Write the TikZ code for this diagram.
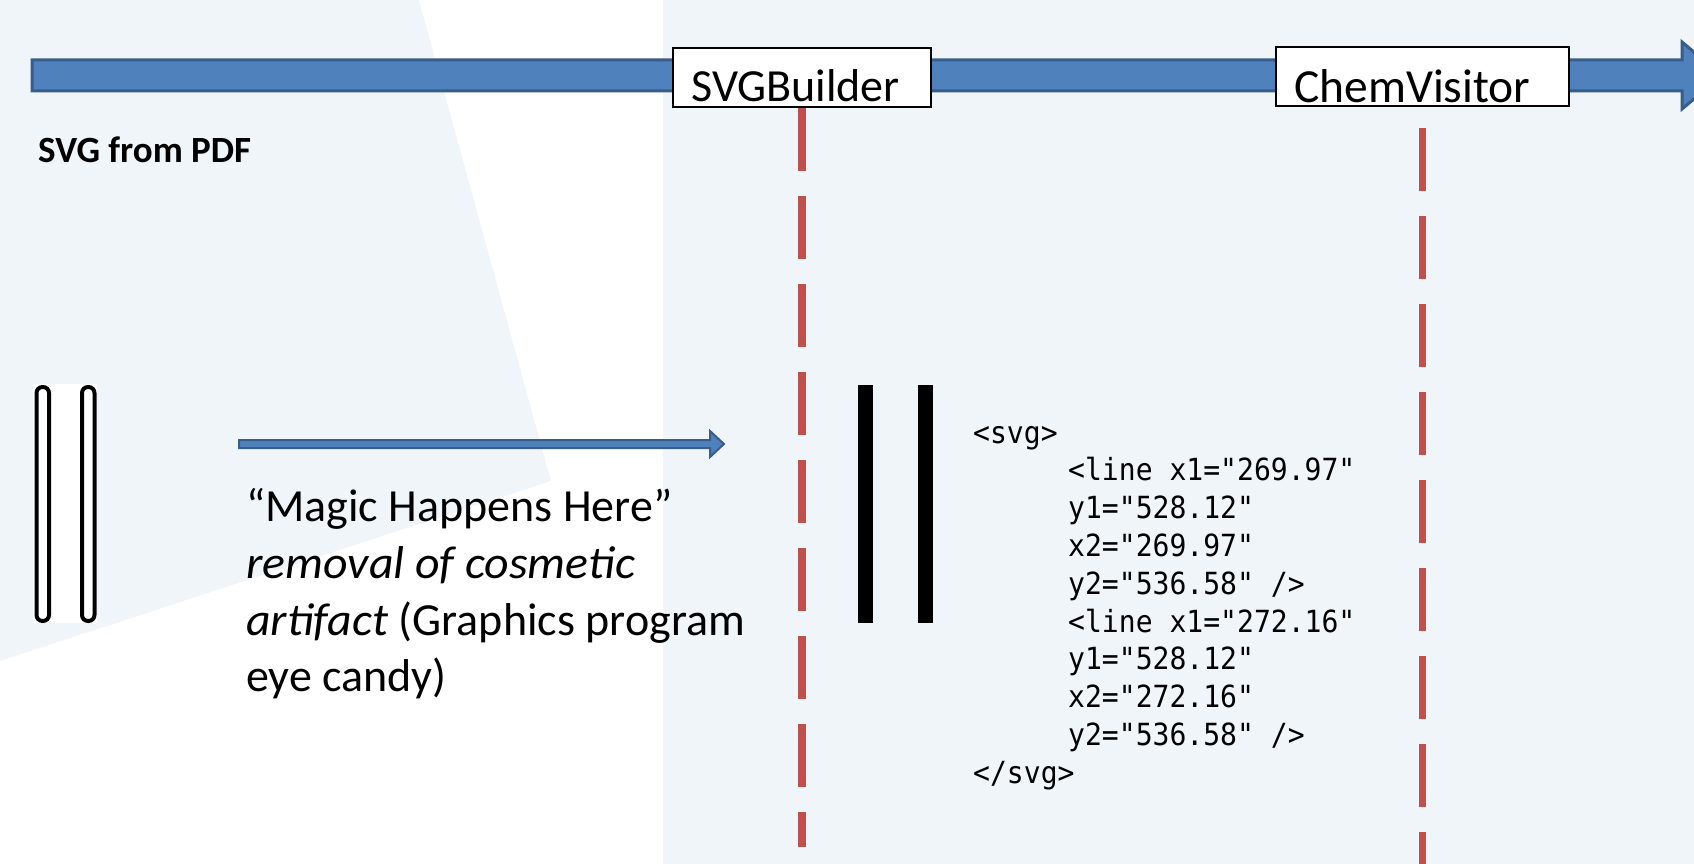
\documentclass[tikz,border=0pt]{standalone}
\usepackage{fontspec}
\setmainfont{Carlito}[ItalicFeatures={FakeStretch=1.04}]
\newfontfamily\codefont[FakeStretch=0.92]{DejaVu Sans Mono}
\definecolor{bglight}{RGB}{240,245,250}
\definecolor{arrowfill}{RGB}{79,129,189}
\definecolor{arrowline}{RGB}{56,93,138}
\definecolor{lifered}{RGB}{192,80,77}
\tikzset{
  blockarrow/.style={fill=arrowfill, draw=arrowline, line join=miter},
  classbox/.style={draw=black, fill=white, line width=1.8pt, inner sep=0pt, anchor=north west},
  classlabel/.style={font=\fontsize{46}{55}\selectfont, inner sep=0pt, anchor=base west},
  lifeline/.style={draw=lifered, line width=7.5pt, dash pattern=on 63pt off 25pt},
  bodytext/.style={font=\fontsize{46}{57}\selectfont, inner sep=0pt, anchor=base west},
  codetext/.style={font=\codefont\fontsize{30.5}{36}\selectfont, inner sep=0pt, anchor=base west},
  outlinebar/.style={draw=black, fill=white, line width=4pt, rounded corners=6pt},
  solidbar/.style={fill=black}
}
\begin{document}
\begin{tikzpicture}[x=1pt,y=-1pt]
\useasboundingbox (0,0) rectangle (1694,864);
\clip (0,0) rectangle (1694,864);
% background
\fill[bglight] (0,0) rectangle (1694,864);
\fill[white] (419,0) -- (663,0) -- (663,864) -- (0,864) -- (0,661) -- (551,481) -- cycle;

% main time arrow
\draw[blockarrow, line width=3pt] (32,60) -- (1682,60) -- (1682,42) -- (1722,75.5) -- (1682,109) -- (1682,91) -- (32,91) -- cycle;

% class boxes
\node[classbox, minimum width=258pt, minimum height=58.5pt] (svgb) at (672,47.5) {};
\node[classlabel] (svgbl) at (691,101.5) {SVGBuilder};
\node[classbox, minimum width=293pt, minimum height=58.5pt] (cv) at (1275,46.5) {};
\node[classlabel, font=\fontsize{47.5}{55}\selectfont] (cvl) at (1294,102.5) {ChemVisitor};

% lifelines
\coordinate (svgbend) at (svgb.south |- 0,847);
\coordinate (cvstart) at ([yshift=-21pt]cv.south);
\coordinate (cvend) at (cv.south |- 0,870);
\draw[lifeline] (svgb.south) -- (svgbend);
\draw[lifeline] (cvstart) -- (cvend);

% source label
\node[font=\bfseries\fontsize{37}{44}\selectfont, inner sep=0pt, anchor=base west] (src) at (38,162) {SVG from PDF};

% original (outlined) lines
\fill[white] (33,384) rectangle (97,623);
\draw[outlinebar] (36.5,387) rectangle (49,621);
\draw[outlinebar] (82,387) rectangle (94.5,621);

% magic arrow
\draw[blockarrow, line width=2pt] (239,440) -- (710,440) -- (710,431) -- (724,444) -- (710,457) -- (710,448) -- (239,448) -- cycle;

% magic text
\node[bodytext] (m1) at (246,521) {“Magic Happens Here”};
\node[bodytext] (m2) at (246,578) {\itshape removal of cosmetic};
\node[bodytext] (m3) at (246,635) {\textit{artifact} (Graphics program};
\node[bodytext] (m4) at (246,691) {eye candy)};

% resulting solid lines
\fill[solidbar] (858,385) rectangle (873,623);
\fill[solidbar] (918,385) rectangle (933,623);

% svg code
\node[codetext] (c0) at (973,443) {<svg>};
\node[codetext] (c1) at (1068,480.8) {<line x1="269.97"};
\node[codetext] (c2) at (1068,518.6) {y1="528.12"};
\node[codetext] (c3) at (1068,556.4) {x2="269.97"};
\node[codetext] (c4) at (1068,594.2) {y2="536.58" />};
\node[codetext] (c5) at (1068,632.0) {<line x1="272.16"};
\node[codetext] (c6) at (1068,669.8) {y1="528.12"};
\node[codetext] (c7) at (1068,707.6) {x2="272.16"};
\node[codetext] (c8) at (1068,745.4) {y2="536.58" />};
\node[codetext] (c9) at (973,783.2) {</svg>};
\end{tikzpicture}
\end{document}
